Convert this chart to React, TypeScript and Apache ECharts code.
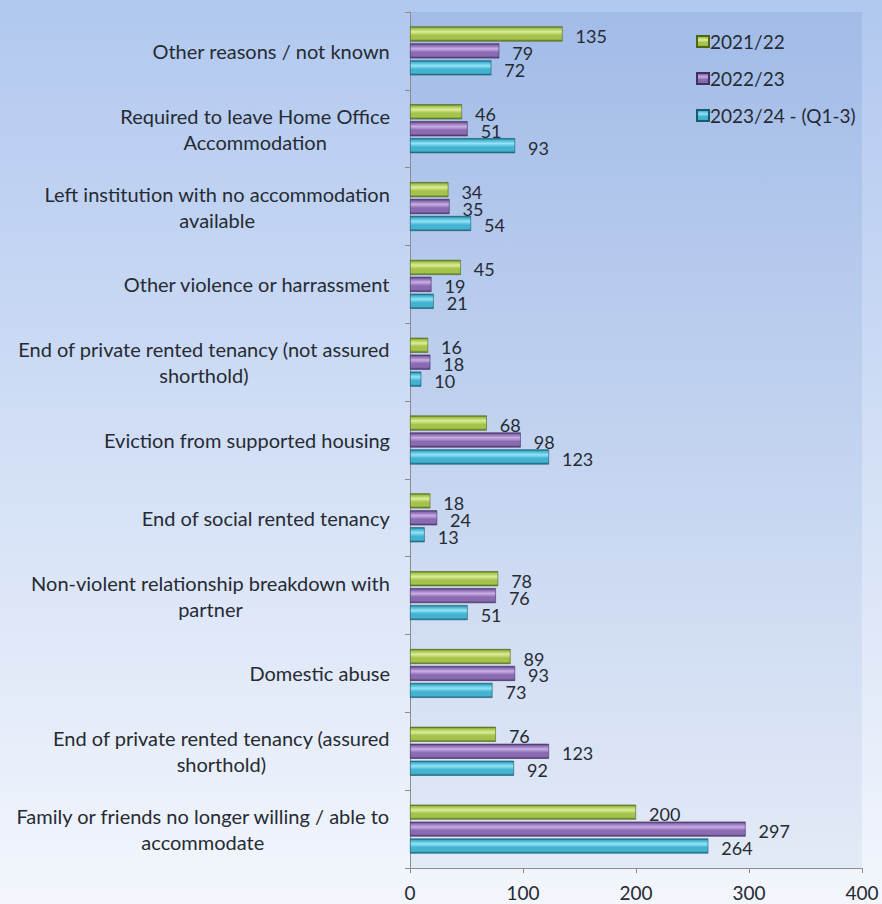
import React, { useEffect, useRef } from "react";
import * as echarts from "echarts";

// Reasons for homelessness, listed top to bottom
const categories = [
  "Other reasons / not known",
  "Required to leave Home Office\nAccommodation",
  "Left institution with no accommodation\navailable",
  "Other violence or harrassment",
  "End of private rented tenancy (not assured\nshorthold)",
  "Eviction from supported housing",
  "End of social rented tenancy",
  "Non-violent relationship breakdown with\npartner",
  "Domestic abuse",
  "End of private rented tenancy (assured\nshorthold)",
  "Family or friends no longer willing / able to\naccommodate",
];

const seriesNames = ["2021/22", "2022/23", "2023/24 - (Q1-3)"];

const values2122 = [135, 46, 34, 45, 16, 68, 18, 78, 89, 76, 200];
const values2223 = [79, 51, 35, 19, 18, 98, 24, 76, 93, 123, 297];
const values2324 = [72, 93, 54, 21, 10, 123, 13, 51, 73, 92, 264];

const xTicks = [0, 100, 200, 300, 400];

const FONT = "Lato, 'Noto Sans', sans-serif";
const TEXT = "#262b33";

// Cylinder-like shading across the bar thickness
function barShade(dark: string, mid: string, light: string) {
  return new echarts.graphic.LinearGradient(0, 0, 0, 1, [
    { offset: 0, color: dark },
    { offset: 0.12, color: mid },
    { offset: 0.35, color: light },
    { offset: 0.6, color: mid },
    { offset: 0.85, color: mid },
    { offset: 1, color: dark },
  ]);
}

const shades = [
  barShade("#5c7620", "#a4c24c", "#dbee98"),
  barShade("#4d386c", "#8a6ab2", "#c8afe4"),
  barShade("#1c6a80", "#44b3d1", "#93e4f6"),
];

const edgeColors = ["#4e6619", "#42305e", "#175a6d"];

function labelRich(value: string) {
  return value
    .split("\n")
    .map((line) => "{c|" + line + "}")
    .join("\n");
}

export default function App() {
  const ref = useRef<HTMLDivElement>(null);

  useEffect(() => {
    if (!ref.current) return;
    const chart = echarts.init(ref.current, null, { renderer: "svg" });
    const data = [values2122, values2223, values2324];

    chart.setOption({
      animation: false,
      backgroundColor: new echarts.graphic.LinearGradient(0, 0, 0, 1, [
        { offset: 0, color: "#b1c8ef" },
        { offset: 1, color: "#f3f6fc" },
      ]),
      textStyle: { fontFamily: FONT },
      legend: {
        orient: "vertical",
        left: 691,
        top: 27,
        itemWidth: 12,
        itemHeight: 11,
        itemGap: 18,
        icon: "rect",
        textStyle: { fontFamily: FONT, fontSize: 19, color: TEXT, padding: [0, 0, 0, -4] },
        data: seriesNames,
      },
      grid: {
        left: 410,
        right: 20,
        top: 12,
        bottom: 36,
        show: true,
        borderWidth: 0,
        backgroundColor: new echarts.graphic.LinearGradient(0, 0, 0, 1, [
          { offset: 0, color: "#a2bce8" },
          { offset: 1, color: "#e3eaf7" },
        ]),
      },
      xAxis: {
        type: "value",
        min: xTicks[0],
        max: xTicks[xTicks.length - 1],
        interval: 100,
        splitLine: { show: false },
        axisLine: { show: true, lineStyle: { color: "#8c8c8c" } },
        axisTick: { show: true, length: 5, lineStyle: { color: "#8c8c8c" } },
        axisLabel: {
          fontFamily: FONT,
          fontSize: 19,
          lineHeight: 18,
          color: TEXT,
          margin: 15,
        },
      },
      yAxis: {
        type: "category",
        inverse: true,
        data: categories,
        axisLine: { show: true, lineStyle: { color: "#8c8c8c" } },
        axisTick: { show: true, length: 5, lineStyle: { color: "#8c8c8c" } },
        axisLabel: {
          fontFamily: FONT,
          fontSize: 20,
          color: TEXT,
          margin: 20,
          lineHeight: 26,
          formatter: labelRich,
          rich: {
            c: { align: "center", fontFamily: FONT, fontSize: 20, color: TEXT, lineHeight: 26 },
          },
        },
      },
      series: seriesNames.map((name, i) => ({
        name,
        type: "bar",
        data: data[i],
        barWidth: 15,
        barGap: "13%",
        barCategoryGap: "37%",
        itemStyle: {
          color: shades[i],
          borderColor: edgeColors[i],
          borderWidth: 0.6,
        },
        label: {
          show: true,
          position: "right",
          distance: 13,
          offset: [0, 2],
          fontFamily: FONT,
          fontSize: 18,
          lineHeight: 14,
          color: TEXT,
        },
      })),
    });

    return () => chart.dispose();
  }, []);

  return (
    <div
      ref={ref}
      style={{ position: "fixed", left: 0, top: 0, width: 882, height: 904 }}
    />
  );
}
